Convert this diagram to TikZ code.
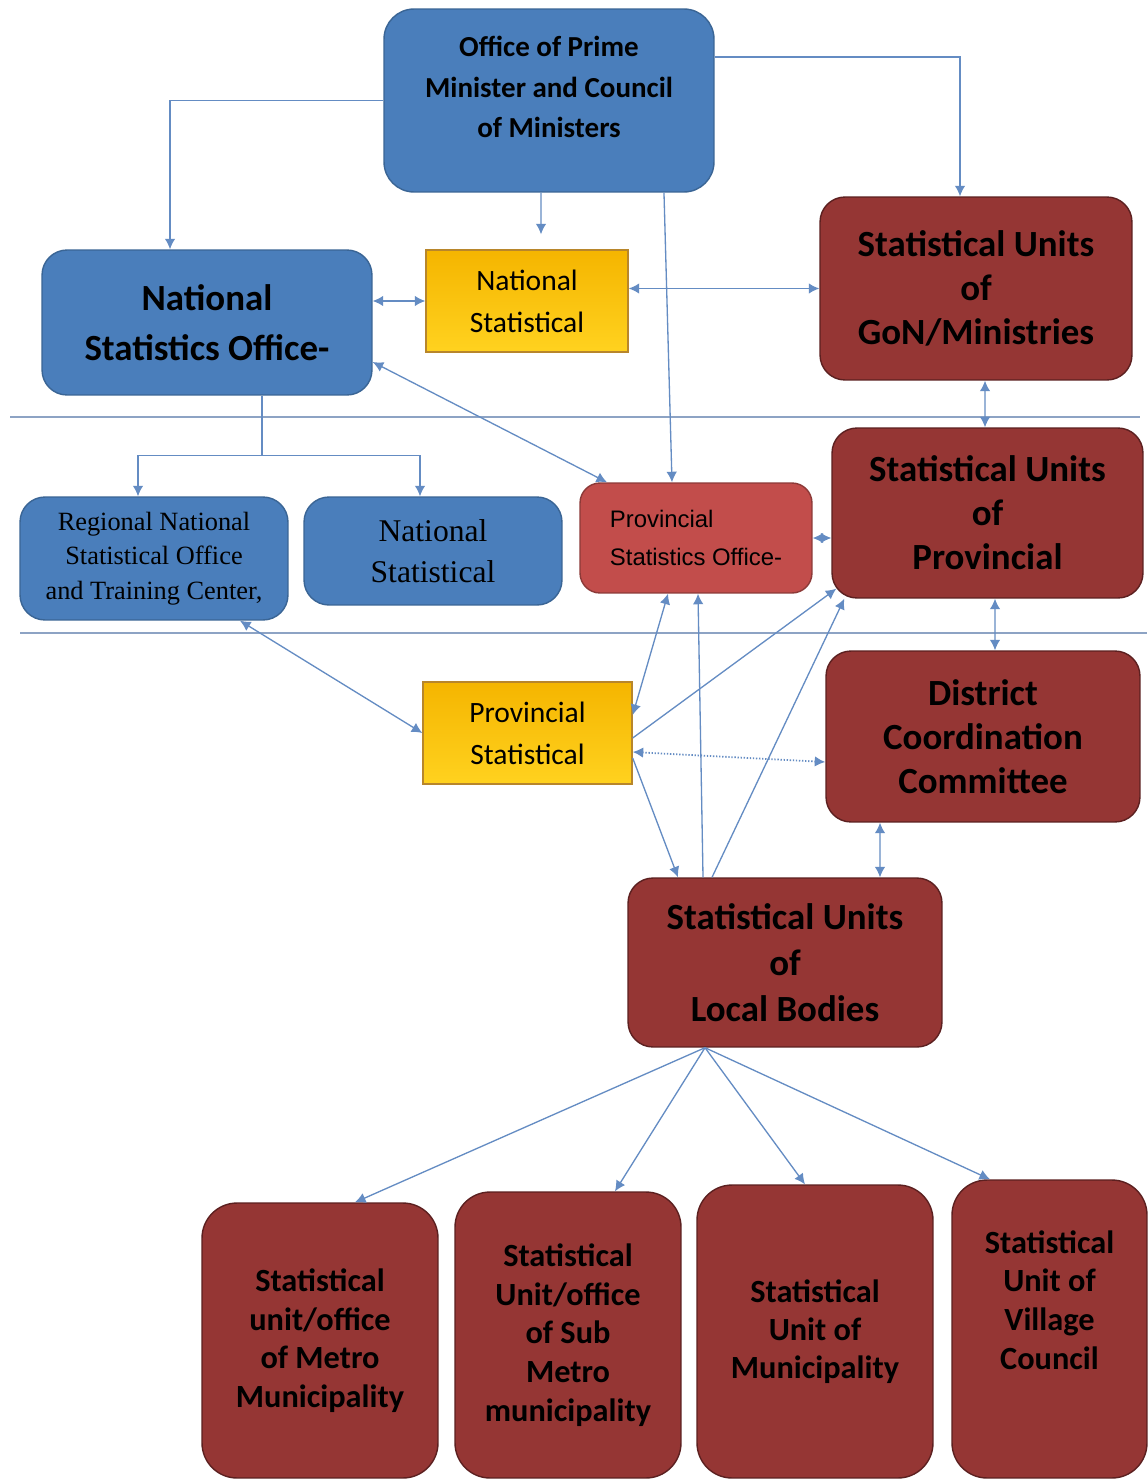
\documentclass[tikz,border=0pt]{standalone}
\usepackage{fontspec}
\usepackage{tikz}
\usetikzlibrary{arrows.meta}
\newfontfamily\calibri{Carlito}
\newfontfamily\timesrm{Liberation Serif}
\newfontfamily\arialrm{Liberation Sans}
\definecolor{boxblue}{HTML}{4A7EBB}
\definecolor{boxblueline}{HTML}{3A6595}
\definecolor{boxred}{HTML}{953634}
\definecolor{boxredline}{HTML}{5C2020}
\definecolor{lightred}{HTML}{C24D4B}
\definecolor{lightredline}{HTML}{8C3A38}
\definecolor{yellowtop}{HTML}{F5B500}
\definecolor{yellowbot}{HTML}{FFD21F}
\definecolor{yellowline}{HTML}{B8862B}
\definecolor{linkblue}{HTML}{648CC3}
\definecolor{ruleblue}{HTML}{8DA3C4}

\begin{document}
\begin{tikzpicture}[x=0.02cm, y=-0.02cm, >={Latex[length=6pt,width=6pt]},
    base/.style={draw, line width=0.8pt, rounded corners=0.5cm, inner sep=0pt, align=center, text=black},
    bluebox/.style={base, fill=boxblue, draw=boxblueline},
    redbox/.style={base, fill=boxred, draw=boxredline},
    provbox/.style={base, fill=lightred, draw=lightredline, rounded corners=0.4cm, align=left},
    yellowbox/.style={base, sharp corners, top color=yellowtop, bottom color=yellowbot, draw=yellowline},
    tallbox/.style={redbox, rounded corners=0.7cm},
    link/.style={draw=linkblue, line width=0.75pt},
    divider/.style={draw=ruleblue, line width=1.6pt}]

    \fill[white] (0,0) rectangle (1147,1481);
    \useasboundingbox (0,0) rectangle (1147,1481);

    % top level
    \node[bluebox, minimum width=6.6cm, minimum height=3.66cm, rounded corners=0.6cm] (pm) at (549,100.5) {};
    \node[align=center, font=\calibri\bfseries\fontsize{16.5}{23.2}\selectfont] (pmtext) at (549,87)
        {Office of Prime\\Minister and Council\\of Ministers};
    \node[bluebox, minimum width=6.6cm, minimum height=2.9cm, font=\calibri\bfseries\fontsize{21}{28.3}\selectfont] (nso) at (207,322.5)
        {National\\Statistics Office-};
    \node[yellowbox, minimum width=4.04cm, minimum height=2.04cm, font=\calibri\fontsize{16.8}{23.8}\selectfont] (natstat) at (527,301)
        {National\\Statistical};
    \node[redbox, minimum width=6.24cm, minimum height=3.66cm, font=\calibri\bfseries\fontsize{21}{25}\selectfont] (gon) at (976,288.5)
        {Statistical Units\\of\\GoN/Ministries};

    % provincial level
    \node[redbox, minimum width=6.22cm, minimum height=3.4cm, font=\calibri\bfseries\fontsize{21}{25}\selectfont] (provunits) at (987.5,513)
        {Statistical Units\\of\\Provincial};
    \node[bluebox, minimum width=5.36cm, minimum height=2.46cm, font=\timesrm\fontsize{15}{19.8}\selectfont] (regional) at (154,558.5)
        {Regional National\\Statistical Office\\and Training Center,};
    \node[bluebox, minimum width=5.16cm, minimum height=2.16cm, font=\timesrm\fontsize{18}{23.2}\selectfont] (natstatb) at (433,551)
        {National\\Statistical};
    \node[provbox, minimum width=4.64cm, minimum height=2.2cm, font=\arialrm\fontsize{13.6}{22}\selectfont] (provoffice) at (696,538)
        {Provincial\\Statistics Office-};

    % district level
    \node[yellowbox, minimum width=4.18cm, minimum height=2.04cm, font=\calibri\fontsize{16.8}{23.8}\selectfont] (provstat) at (527.5,733)
        {Provincial\\Statistical};
    \node[redbox, minimum width=6.28cm, minimum height=3.42cm, font=\calibri\bfseries\fontsize{21}{25}\selectfont] (dcc) at (983,736.5)
        {District\\Coordination\\Committee};
    \node[redbox, minimum width=6.28cm, minimum height=3.38cm, font=\calibri\bfseries\fontsize{21}{26}\selectfont] (local) at (785,962.5)
        {Statistical Units\\of\\Local Bodies};

    % local bodies
    \node[tallbox, minimum width=4.72cm, minimum height=5.5cm, font=\calibri\bfseries\fontsize{18.4}{22}\selectfont] (metro) at (320,1340.5)
        {Statistical\\unit/office\\of Metro\\Municipality};
    \node[tallbox, minimum width=4.52cm, minimum height=5.72cm, font=\calibri\bfseries\fontsize{18.4}{22}\selectfont] (submetro) at (568,1335)
        {Statistical\\Unit/office\\of Sub\\Metro\\municipality};
    \node[tallbox, minimum width=4.72cm, minimum height=5.86cm, font=\calibri\bfseries\fontsize{18.4}{21.5}\selectfont] (muni) at (815,1331.5)
        {Statistical\\Unit of\\Municipality};
    \node[tallbox, minimum width=3.9cm, minimum height=5.96cm] (village) at (1049.5,1329) {};
    \node[align=center, font=\calibri\bfseries\fontsize{18.4}{22}\selectfont] (villagetext) at (1049.5,1300)
        {Statistical\\Unit of\\Village\\Council};

    % level dividers
    \draw[divider] (10,417) -- (1140,417);
    \draw[divider] (20,633) -- (1147,633);

    % links
    \draw[link,->] (pm.west) -| ([xshift=-0.74cm]nso.north);
    \draw[link,->] ([yshift=0.87cm]pm.east) -| ([xshift=-0.32cm]gon.north);
    \draw[link,->] ([xshift=-0.16cm]pm.south) -- ([xshift=0.28cm,yshift=0.3cm]natstat.north);
    \draw[link,->] ([xshift=2.3cm]pm.south) -- ([xshift=-0.48cm]provoffice.north);
    \draw[link,<->] (natstat.west -| nso.east) -- (natstat.west);
    \draw[link,<->] (natstat.east |- gon.west) -- (gon.west);
    \draw[link,<->] ([yshift=-0.79cm]nso.east) -- ([xshift=-1.78cm]provoffice.north);
    \draw[link,<->] ([xshift=0.18cm]gon.south) -- ([xshift=-0.05cm]provunits.north);

    \draw[link] ([xshift=1.1cm]nso.south) -- ++(0,60) coordinate (split);
    \draw[link,->] (split) -| ([xshift=-0.32cm]regional.north);
    \draw[link,->] (split) -| ([xshift=-0.26cm]natstatb.north);

    \draw[link,<->] (provoffice.east) -- (provoffice.east -| provunits.west);
    \draw[link,<->] ([xshift=0.15cm]provunits.south) -- ([xshift=0.24cm]dcc.north);
    \draw[link,<->] ([xshift=1.72cm]regional.south) -- (provstat.west);
    \draw[link,<->] ([yshift=0.36cm]provstat.east) -- ([xshift=-0.56cm]provoffice.south);
    \draw[link,->] ([yshift=-0.1cm]provstat.east) -- ([xshift=0.1cm,yshift=0.2cm]provunits.south west);
    \draw[link,<->, densely dotted, line width=1pt] ([yshift=-0.38cm]provstat.east) -- ([yshift=-0.51cm]dcc.west);
    \draw[link,->] ([yshift=-0.5cm]provstat.east) -- ([xshift=-2.14cm]local.north);
    \draw[link,->] ([xshift=-1.64cm]local.north) -- ([xshift=0.04cm]provoffice.south);
    \draw[link,->] ([xshift=-1.46cm]local.north) -- ([xshift=0.26cm]provunits.south west);
    \draw[link,<->] ([xshift=-2.06cm]dcc.south) -- ([xshift=1.9cm]local.north);

    \coordinate (fan) at ([xshift=-1.6cm]local.south);
    \draw[link,->] (fan) -- ([xshift=0.7cm]metro.north);
    \draw[link,->] (fan) -- ([xshift=0.94cm]submetro.north);
    \draw[link,->] (fan) -- ([xshift=-0.2cm]muni.north);
    \draw[link,->] (fan) -- ([xshift=-1.19cm]village.north);
\end{tikzpicture}
\end{document}
